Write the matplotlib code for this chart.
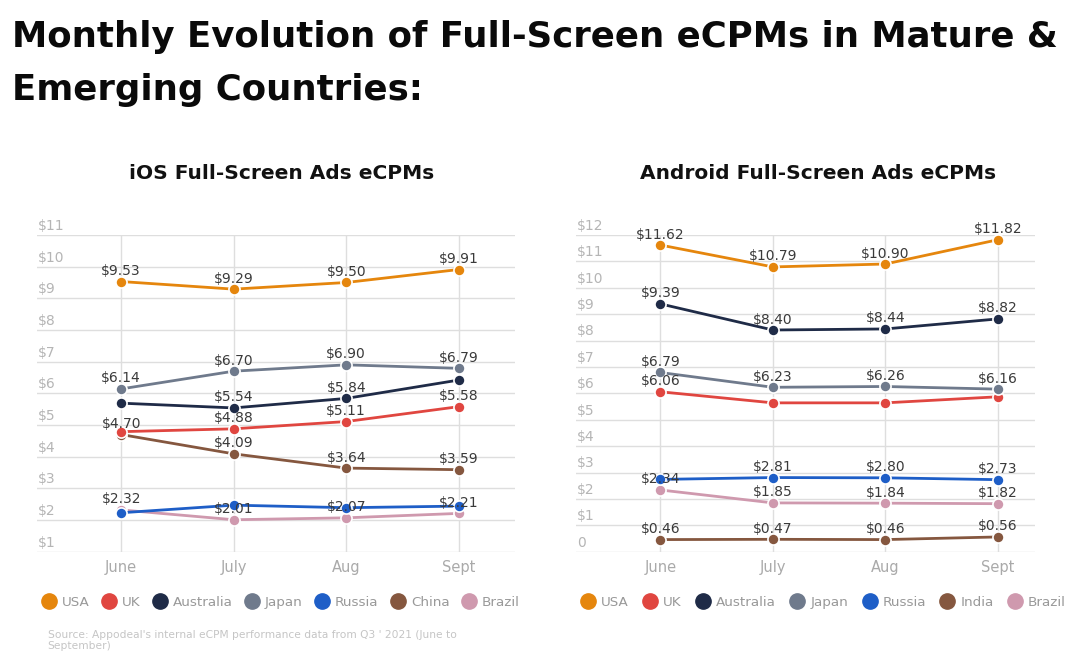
import matplotlib.pyplot as plt
from matplotlib.lines import Line2D

plt.rcParams['font.family'] = ['DejaVu Sans']

# data
months = ['June', 'July', 'Aug', 'Sept']

ios_countries = ['USA', 'UK', 'Australia', 'Japan', 'Russia', 'China', 'Brazil']
ios_usa = [9.53, 9.29, 9.50, 9.91]
ios_uk = [4.79, 4.88, 5.11, 5.58]
ios_australia = [5.69, 5.54, 5.84, 6.42]
ios_japan = [6.14, 6.70, 6.90, 6.79]
ios_russia = [2.23, 2.47, 2.39, 2.44]
ios_china = [4.70, 4.09, 3.64, 3.59]
ios_brazil = [2.32, 2.01, 2.07, 2.21]
# which points carry a value label
ios_labelled = {
    'USA': [1, 1, 1, 1], 'UK': [0, 1, 1, 1], 'Australia': [0, 1, 1, 0],
    'Japan': [1, 1, 1, 1], 'Russia': [0, 0, 0, 0], 'China': [1, 1, 1, 1],
    'Brazil': [1, 1, 1, 1],
}

and_countries = ['USA', 'UK', 'Australia', 'Japan', 'Russia', 'India', 'Brazil']
and_usa = [11.62, 10.79, 10.90, 11.82]
and_uk = [6.06, 5.64, 5.64, 5.87]
and_australia = [9.39, 8.40, 8.44, 8.82]
and_japan = [6.79, 6.23, 6.26, 6.16]
and_russia = [2.74, 2.81, 2.80, 2.73]
and_india = [0.46, 0.47, 0.46, 0.56]
and_brazil = [2.34, 1.85, 1.84, 1.82]
and_labelled = {
    'USA': [1, 1, 1, 1], 'UK': [1, 0, 0, 0], 'Australia': [1, 1, 1, 1],
    'Japan': [1, 1, 1, 1], 'Russia': [0, 1, 1, 1], 'India': [1, 1, 1, 1],
    'Brazil': [1, 1, 1, 1],
}

colors = {
    'USA': '#e5860d', 'UK': '#e04640', 'Australia': '#1f2b47',
    'Japan': '#6f7a8c', 'Russia': '#1e5ec7', 'China': '#85573f',
    'India': '#85573f', 'Brazil': '#cf99ae',
}

# draw order (back to front)
order = ['Brazil', 'Russia', 'China', 'India', 'UK', 'Australia', 'Japan', 'USA']


def draw_panel(ax, countries, series, labelled, ymin, ymax, xmax, yticks, ytick_labels,
               title, title_x, colspacing):
    x = list(range(len(months)))
    for name in order:
        if name not in series:
            continue
        ax.plot(x, series[name], color=colors[name], lw=2, marker='o', ms=8,
                mfc=colors[name], mec='white', mew=1.2, zorder=3)
        for xi, v, lab in zip(x, series[name], labelled[name]):
            if lab:
                ax.annotate(f'${v:.2f}', (xi, v), xytext=(0, 2.5), textcoords='offset points',
                            ha='center', va='bottom', fontsize=10, color='#3a3a3a', zorder=4)
    ax.set_xlim(-0.75, xmax)
    ax.set_ylim(ymin, ymax)
    for t in yticks:
        ax.axhline(t, color='#dedede', lw=1, zorder=1)
    for xi in x:
        ax.axvline(xi, color='#dedede', lw=1, zorder=1)
    for t, lab in zip(yticks, ytick_labels):
        ax.annotate(lab, (0, t), xycoords=('axes fraction', 'data'), xytext=(1, 1.5),
                    textcoords='offset points', ha='left', va='bottom',
                    fontsize=10, color='#b5b5b5')
    ax.set_yticks([])
    ax.set_xticks(x)
    ax.set_xticklabels(months)
    ax.tick_params(axis='x', length=0, pad=6, labelsize=10.5, labelcolor='#aaaaaa')
    for s in ax.spines.values():
        s.set_visible(False)
    ax.text(title_x, 1.195, title, transform=ax.transAxes, ha='center', va='center',
            fontsize=14.5, fontweight='bold', color='#111111')

    handles = [Line2D([], [], ls='', marker='o', ms=11, color=colors[c], mec=colors[c]) for c in countries]
    ax.legend(handles, countries, loc='upper left', bbox_to_anchor=(0.0, -0.122), ncol=7,
              frameon=False, fontsize=9.7, labelcolor='#999999', handletextpad=0.45,
              columnspacing=colspacing, borderaxespad=0, handlelength=1.0)


fig = plt.figure(figsize=(10.8, 6.52), dpi=100)

ax1 = fig.add_axes([0.034, 0.1538, 0.4429, 0.4858])
ios_series = {'USA': ios_usa, 'UK': ios_uk, 'Australia': ios_australia, 'Japan': ios_japan,
              'Russia': ios_russia, 'China': ios_china, 'Brazil': ios_brazil}
draw_panel(ax1, ios_countries, ios_series, ios_labelled, 1, 11, 3.5,
           list(range(1, 12)), [f'${t}' for t in range(1, 12)],
           'iOS Full-Screen Ads eCPMs', 0.513, 0.95)

ax2 = fig.add_axes([0.5333, 0.1538, 0.425, 0.4858])
and_series = {'USA': and_usa, 'UK': and_uk, 'Australia': and_australia, 'Japan': and_japan,
              'Russia': and_russia, 'India': and_india, 'Brazil': and_brazil}
draw_panel(ax2, and_countries, and_series, and_labelled, 0, 12, 3.33,
           list(range(0, 13)), ['0'] + [f'${t}' for t in range(1, 13)],
           'Android Full-Screen Ads eCPMs', 0.528, 1.1)

fig.text(0.011, 0.928, 'Monthly Evolution of Full-Screen eCPMs in Mature &',
         fontsize=25.6, fontweight='bold', color='#0a0a0a', ha='left', va='baseline')
fig.text(0.011, 0.8466, 'Emerging Countries:',
         fontsize=25.6, fontweight='bold', color='#0a0a0a', ha='left', va='baseline')

fig.text(0.044, 0.001, "Source: Appodeal's internal eCPM performance data from Q3 ' 2021 (June to\nSeptember)",
         fontsize=7.7, color='#c5c5c5', ha='left', va='bottom')

fig.savefig('out.png', dpi=100)
